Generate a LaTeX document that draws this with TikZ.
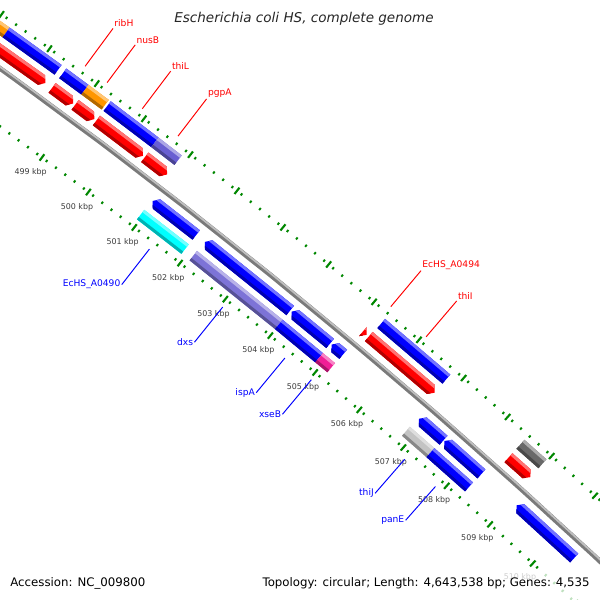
\documentclass[tikz,border=0pt]{standalone}
\usepackage{fontspec}
\setmainfont{DejaVu Sans}
\usetikzlibrary{calc}

\definecolor{cogblue}{RGB}{0,0,255}
\definecolor{genered}{RGB}{255,0,0}
\definecolor{cogorange}{RGB}{255,150,0}
\definecolor{cogpurple}{RGB}{105,95,210}
\definecolor{dxspurple}{RGB}{125,115,215}
\definecolor{cogcyan}{RGB}{0,255,255}
\definecolor{cogpink}{RGB}{240,30,150}
\definecolor{coglight}{RGB}{195,195,195}
\definecolor{cogdark}{RGB}{105,105,105}
\definecolor{tickgreen}{RGB}{0,135,0}
\definecolor{kbpgrey}{RGB}{60,60,60}
\definecolor{labred}{RGB}{255,0,0}
\definecolor{labblue}{RGB}{0,0,255}

% kbp -> angle round the map centre
\def\ang#1{53.41-0.5455*(#1-499)}

% #1 start, #2 end (kbp), #3 radius, #4 colour, #5: 0 bar, 1 forward, 2 reverse
\newcommand{\gene}[5]{%
	\pgfmathsetmacro{\gSa}{#1}\pgfmathsetmacro{\gTa}{#1}%
	\pgfmathsetmacro{\gSb}{#2}\pgfmathsetmacro{\gTb}{#2}%
	\ifnum#5=1 \pgfmathsetmacro{\gSb}{#2-0.085}\fi
	\ifnum#5=2 \pgfmathsetmacro{\gSa}{#1+0.085}\fi
	\fill[#4] ({\ang{\gSa}}:{#3+6}) -- ({\ang{\gSb}}:{#3+6}) -- ({\ang{\gTb}}:#3) -- ({\ang{\gSb}}:{#3-6}) -- ({\ang{\gSa}}:{#3-6}) -- ({\ang{\gTa}}:#3) -- cycle;
	\fill[#4!55!white] ({\ang{\gSa}}:{#3+6}) -- ({\ang{\gSb}}:{#3+6}) -- ({\ang{(\gSb+\gTb)/2}}:{#3+3}) -- ({\ang{(\gSa+\gTa)/2}}:{#3+3}) -- cycle;
	\fill[#4!70!black] ({\ang{\gSa}}:{#3-6}) -- ({\ang{\gSb}}:{#3-6}) -- ({\ang{(\gSb+\gTb)/2}}:{#3-3}) -- ({\ang{(\gSa+\gTa)/2}}:{#3-3}) -- cycle;
}

\tikzset{
	backbone/.style={draw=black!52, line width=2.8pt},
	backlight/.style={draw=black!25, line width=1pt},
	smalltick/.style={draw=tickgreen, line width=1.1pt},
	bigtick/.style={draw=tickgreen, line width=1.2pt},
	kbplab/.style={text=kbpgrey, font=\fontsize{4.5}{5}\selectfont, inner sep=0pt},
	redlab/.style={text=labred, font=\fontsize{5.2}{6}\selectfont, inner sep=0.6pt, anchor=south west},
	bluelab/.style={text=labblue, font=\fontsize{5.2}{6}\selectfont, inner sep=0.6pt, anchor=east},
	redlead/.style={draw=labred, line width=0.55pt},
	bluelead/.style={draw=labblue, line width=0.55pt},
}

\begin{document}
\begin{tikzpicture}[x=0.02cm,y=0.02cm]
	%%%%% FRAME %%%%%
	\useasboundingbox (0,0) rectangle (600,-600);
	\clip (0,0) rectangle (600,-600);
	
	\begin{scope}[shift={(-3585,-5043)}]
		% backbone
		\draw[backbone] plot[domain=495:513, samples=40, smooth] ({\ang{\x}}:6132);
		\draw[backlight] plot[domain=495:513, samples=40, smooth] ({\ang{\x}}:6133.3);
		
		% tick rings, every 0.2 kbp
		\foreach \k in {0,...,85} {
			\draw[smalltick] ({\ang{495.5+0.2*\k}}:6083.7) -- ({\ang{495.5+0.2*\k}}:6086.3);
			\draw[smalltick] ({\ang{495.5+0.2*\k}}:6175.7) -- ({\ang{495.5+0.2*\k}}:6178.3);
		}
		\foreach \k in {496,...,512} {
			\draw[bigtick] ({\ang{\k}}:6081) -- ({\ang{\k}}:6089);
			\draw[bigtick] ({\ang{\k}}:6173) -- ({\ang{\k}}:6181);
		}
		\foreach \k in {499,...,510}
			\node[kbplab] (kbp\k) at ({\ang{\k}}:6066) {\k\ kbp};
		
		% outer COG row
		\gene{495.5}{497.24}{6165}{cogorange}{0}
		\gene{497.24}{498.33}{6165}{cogblue}{0}
		\gene{498.43}{498.90}{6165}{cogblue}{0}
		\gene{498.90}{499.33}{6165}{cogorange}{0}
		\gene{499.37}{500.39}{6165}{cogblue}{0}
		\gene{500.39}{500.89}{6165}{cogpurple}{0}
		\gene{505.33}{506.79}{6165}{cogblue}{0}
		\gene{508.47}{508.97}{6165}{cogdark}{0}
		% outer genes
		\gene{495.5}{498.29}{6147}{genered}{1}
		\gene{498.43}{498.88}{6147}{genered}{1}
		\gene{498.92}{499.33}{6147}{genered}{1}
		\gene{499.37}{500.37}{6147}{genered}{1}
		\gene{500.41}{500.89}{6147}{genered}{1}
		\gene{505.18}{505.265}{6147}{genered}{1}
		\gene{505.31}{506.79}{6147}{genered}{1}
		\gene{508.47}{508.97}{6147}{genered}{1}
		% inner genes
		\gene{500.97}{501.92}{6117}{cogblue}{2}
		\gene{502.11}{503.99}{6117}{cogblue}{2}
		\gene{504.02}{504.88}{6117}{cogblue}{2}
		\gene{504.91}{505.17}{6117}{cogblue}{2}
		\gene{506.88}{507.44}{6117}{cogblue}{2}
		\gene{507.46}{508.31}{6117}{cogblue}{2}
		\gene{509.12}{510.46}{6117}{cogblue}{2}
		% inner COG row
		\gene{500.95}{501.92}{6099}{cogcyan}{0}
		\gene{502.10}{503.99}{6099}{dxspurple}{0}
		\gene{503.99}{504.89}{6099}{cogblue}{0}
		\gene{504.89}{505.16}{6099}{cogpink}{0}
		\gene{506.85}{507.41}{6099}{coglight}{0}
		\gene{507.41}{508.30}{6099}{cogblue}{0}
		
		% labels
		\foreach \p/\t/\n in {498.665/ribH/ribH, 499.13/nusB/nusB, 499.875/thiL/thiL, 500.64/pgpA/pgpA, 505.27/EcHS\_A0494/a0494, 506.06/thiI/thiI} {
			\coordinate (\n-a) at ({\ang{\p}}:6184);
			\node[redlab] (\n) at ({\ang{\p}}:6231) {\t};
			\draw[redlead] (\n-a) -- (\n.south west);
		}
		\foreach \p/\t/\n in {501.435/EcHS\_A0490/a0490, 503.05/dxs/dxs, 504.44/ispA/ispA, 505.03/xseB/xseB, 507.15/thiJ/thiJ, 507.86/panE/panE} {
			\coordinate (\n-a) at ({\ang{\p}}:6077);
			\node[bluelab] (\n) at ({\ang{\p}}:6032) {\t};
			\draw[bluelead] (\n-a) -- (\n.east);
		}
	\end{scope}
	
	% title and footer
	\node[text=black!85, font=\fontsize{7.7}{9}\selectfont\itshape] (title) at (304,-19) {Escherichia coli HS, complete genome};
	\fill[white, opacity=0.75] (255,-569) rectangle (600,-600);
	\node[anchor=base west, inner sep=0pt, font=\fontsize{6.7}{8}\selectfont] (acc) at (10,-586) {Accession: NC\_009800};
	\node[anchor=base east, inner sep=0pt, font=\fontsize{6.7}{8}\selectfont] (topo) at (590,-586) {Topology: circular; Length: 4,643,538 bp; Genes: 4,535};
\end{tikzpicture}
\end{document}
